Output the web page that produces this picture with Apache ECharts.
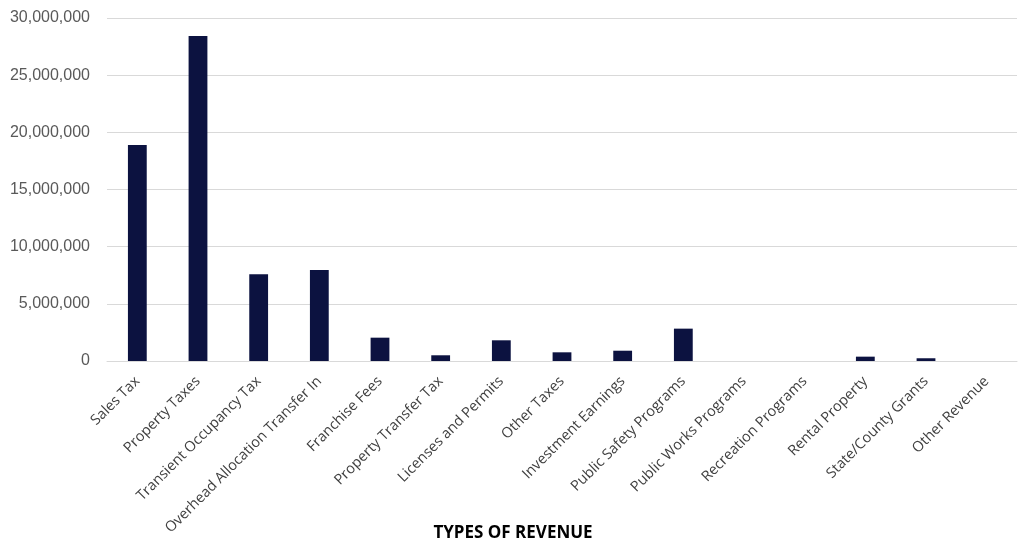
<!DOCTYPE html>
<html>
<head>
<meta charset="utf-8">
<script src="https://cdn.jsdelivr.net/npm/echarts@6/dist/echarts.min.js"></script>
<style>
  html, body { margin: 0; padding: 0; background: #fff; }
  #chart { width: 1018px; height: 541px; }
</style>
</head>
<body>
<div id="chart"></div>
<script>
const categories = [
  'Sales Tax', 'Property Taxes', 'Transient Occupancy Tax', 'Overhead Allocation Transfer In',
  'Franchise Fees', 'Property Transfer Tax', 'Licenses and Permits', 'Other Taxes',
  'Investment Earnings', 'Public Safety Programs', 'Public Works Programs',
  'Recreation Programs', 'Rental Property', 'State/County Grants', 'Other Revenue'
]
const revenue = [
  18900000, 28420000, 7580000, 7960000,
  2040000, 500000, 1810000, 760000,
  900000, 2830000, 0,
  0, 380000, 240000, 0
]
const yMin = 0
const yMax = 30000000
const yStep = 5000000

const chart = echarts.init(document.getElementById('chart'))

chart.setOption({
  animation: false,
  grid: {
    top: 18,
    left: 107,
    right: 1,
    bottom: 180,
    outerBoundsMode: 'none'
  },
  xAxis: {
    type: 'category',
    data: categories,
    name: 'TYPES OF REVENUE',
    nameLocation: 'middle',
    nameGap: 164,
    nameMoveOverlap: false,
    nameTextStyle: {
      fontFamily: 'Open Sans',
      fontWeight: 'bold',
      fontSize: 17,
      color: '#000',
      padding: [0, 98, 0, 0]
    },
    axisLine: { lineStyle: { color: '#d9d9d9', width: 1 } },
    axisTick: { show: false },
    axisLabel: {
      rotate: 45,
      interval: 0,
      margin: 18,
      fontFamily: 'Open Sans',
      fontSize: 14.5,
      color: '#404040'
    }
  },
  yAxis: {
    type: 'value',
    min: yMin,
    max: yMax,
    interval: yStep,
    axisLine: { show: false },
    axisTick: { show: false },
    splitLine: { lineStyle: { color: '#d9d9d9', width: 1 } },
    axisLabel: {
      margin: 17,
      fontFamily: 'Liberation Sans',
      fontSize: 16,
      color: '#595959',
      formatter: v => v.toLocaleString('en-US')
    }
  },
  series: [{
    type: 'bar',
    data: revenue,
    barWidth: '31%',
    itemStyle: { color: '#0c1240' }
  }]
})
</script>
</body>
</html>
